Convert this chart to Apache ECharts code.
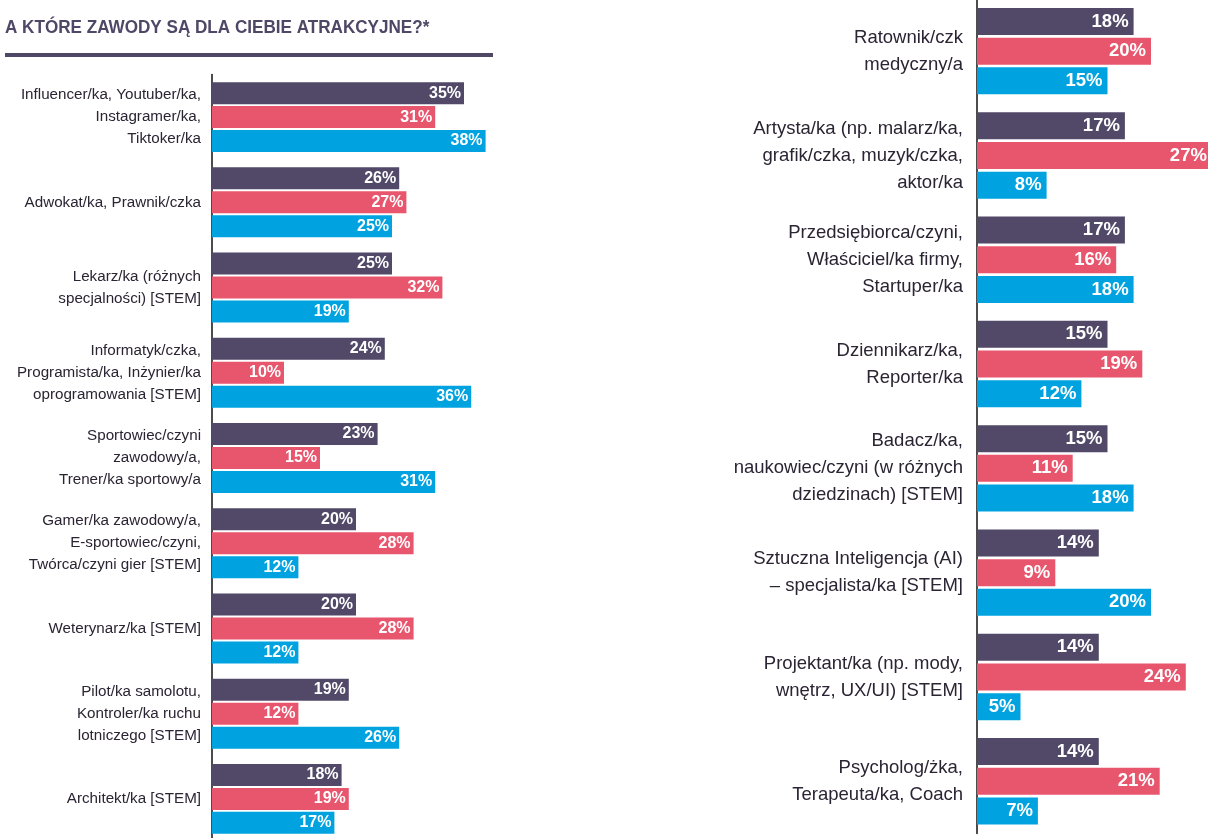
<!DOCTYPE html>
<html>
<head>
<meta charset="utf-8">
<script src="https://cdn.jsdelivr.net/npm/echarts@6/dist/echarts.min.js"></script>
<style>
  html, body { margin: 0; padding: 0; background: #fff; }
  #main { width: 1208px; height: 838px; }
</style>
</head>
<body>
<div id="main"></div>
<script>
// left column
const leftCats = [
  'Influencer/ka, Youtuber/ka,\nInstagramer/ka,\nTiktoker/ka',
  'Adwokat/ka, Prawnik/czka',
  'Lekarz/ka (różnych\nspecjalności) [STEM]',
  'Informatyk/czka,\nProgramista/ka, Inżynier/ka\noprogramowania [STEM]',
  'Sportowiec/czyni\nzawodowy/a,\nTrener/ka sportowy/a',
  'Gamer/ka zawodowy/a,\nE-sportowiec/czyni,\nTwórca/czyni gier [STEM]',
  'Weterynarz/ka [STEM]',
  'Pilot/ka samolotu,\nKontroler/ka ruchu\nlotniczego [STEM]',
  'Architekt/ka [STEM]'
];
const leftA = [35, 26, 25, 24, 23, 20, 20, 19, 18];
const leftB = [31, 27, 32, 10, 15, 28, 28, 12, 19];
const leftC = [38, 25, 19, 36, 31, 12, 12, 26, 17];

// right column
const rightCats = [
  'Ratownik/czk\nmedyczny/a',
  'Artysta/ka (np. malarz/ka,\ngrafik/czka, muzyk/czka,\naktor/ka',
  'Przedsiębiorca/czyni,\nWłaściciel/ka firmy,\nStartuper/ka',
  'Dziennikarz/ka,\nReporter/ka',
  'Badacz/ka,\nnaukowiec/czyni (w różnych\ndziedzinach) [STEM]',
  'Sztuczna Inteligencja (AI)\n– specjalista/ka [STEM]',
  'Projektant/ka (np. mody,\nwnętrz, UX/UI) [STEM]',
  'Psycholog/żka,\nTerapeuta/ka, Coach'
];
const rightA = [18, 17, 17, 15, 15, 14, 14, 14];
const rightB = [20, 27, 16, 19, 11, 9, 24, 21];
const rightC = [15, 8, 18, 12, 18, 20, 5, 7];

const colors = ['#514967', '#e8566e', '#00a3df'];
const font = 'Liberation Sans';

function makeSeries(data, idx, color, barW, gap, fs, dist) {
  return {
    type: 'bar',
    xAxisIndex: idx,
    yAxisIndex: idx,
    data: data,
    barWidth: barW,
    barGap: gap,
    clip: false,
    itemStyle: { color: color },
    label: {
      show: true,
      position: 'insideRight',
      distance: dist,
      formatter: '{c}%',
      color: '#fff',
      fontWeight: 'bold',
      fontSize: fs,
      fontFamily: font
    }
  };
}

let chart = echarts.init(document.getElementById('main'));
let option = {
  animation: false,
  graphic: [
    {
      type: 'text', x: 5, y: 28, scaleX: 0.9,
      style: {
        text: 'A KTÓRE ZAWODY SĄ DLA CIEBIE ATRAKCYJNE?*',
        font: 'bold 19px "Liberation Sans"',
        fill: '#4f4766',
        verticalAlign: 'middle'
      }
    },
    { type: 'rect', shape: { x: 5, y: 53, width: 488, height: 4 }, style: { fill: '#4f4766' } }
  ],
  grid: [
    { left: 212, top: 74.5, width: 288, height: 767, outerBoundsMode: 'none', containLabel: false },
    { left: 977, top: -1, width: 261, height: 834.4, outerBoundsMode: 'none', containLabel: false }
  ],
  xAxis: [
    { gridIndex: 0, type: 'value', min: 0, max: 40, show: false },
    { gridIndex: 1, type: 'value', min: 0, max: 30, show: false }
  ],
  yAxis: [
    {
      gridIndex: 0, type: 'category', data: leftCats, inverse: true,
      axisLine: { lineStyle: { color: '#111', width: 1.5 } },
      axisTick: { show: false },
      axisLabel: {
        margin: 11, fontSize: 15.2, lineHeight: 22, color: '#2b2433', fontFamily: font,
        padding: [8, 0, 0, 0], backgroundColor: 'rgba(255,255,255,0)'
      }
    },
    {
      gridIndex: 1, type: 'category', data: rightCats, inverse: true,
      axisLine: { lineStyle: { color: '#111', width: 1.5 } },
      axisTick: { show: false },
      axisLabel: {
        margin: 14, fontSize: 18.5, lineHeight: 27, color: '#2b2433', fontFamily: font,
        padding: [7, 0, 0, 0], backgroundColor: 'rgba(255,255,255,0)'
      }
    }
  ],
  series: [
    makeSeries(leftA, 0, colors[0], 22, '9%', 16, 3),
    makeSeries(leftB, 0, colors[1], 22, '9%', 16, 3),
    makeSeries(leftC, 0, colors[2], 22, '9%', 16, 3),
    makeSeries(rightA, 1, colors[0], 27, '10%', 18.5, 5),
    makeSeries(rightB, 1, colors[1], 27, '10%', 18.5, 5),
    makeSeries(rightC, 1, colors[2], 27, '10%', 18.5, 5)
  ]
};
chart.setOption(option);
</script>
</body>
</html>
